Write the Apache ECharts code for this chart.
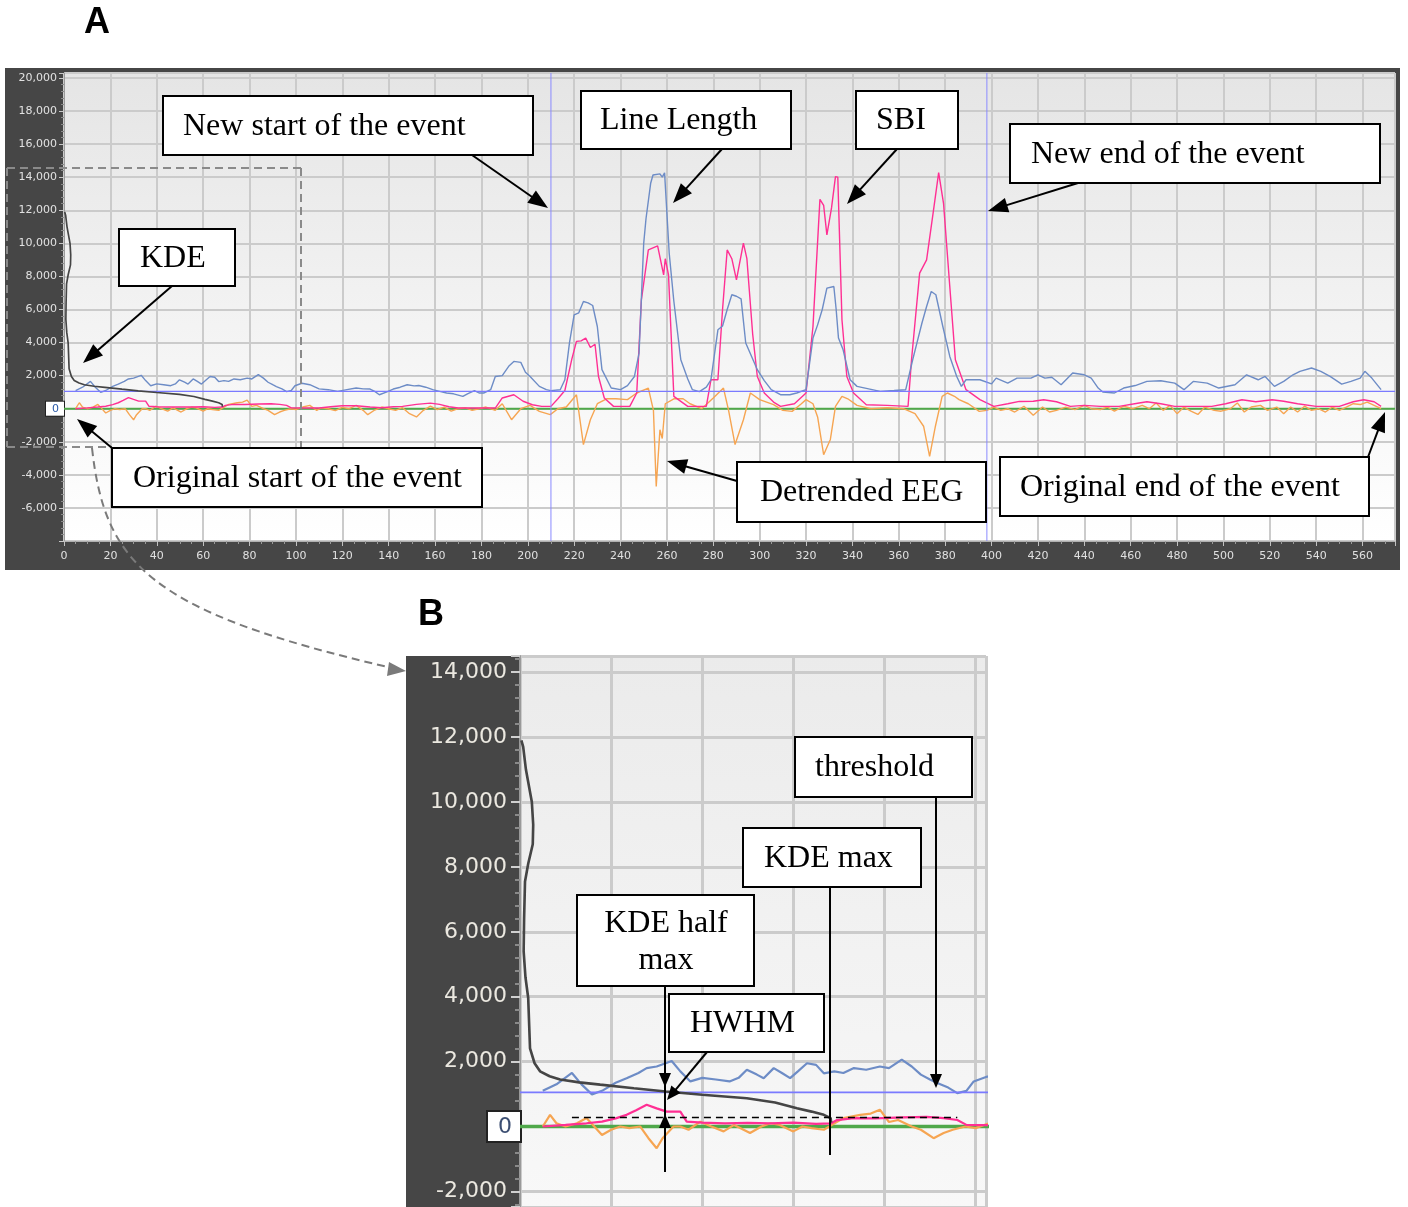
<!DOCTYPE html>
<html><head><meta charset="utf-8">
<script src="https://cdn.jsdelivr.net/npm/echarts@6/dist/echarts.min.js"></script>
<style>html,body{margin:0;padding:0;background:#fff}#c{width:1408px;height:1207px}</style>
</head><body><div id="c"></div>
<script>
// ---------------- data (x = sample index, y = amplitude) ----------------
const lineLength = [[5,1100],[8,1300],[11.4,1650],[13.5,1300],[15.8,990],[18,1100],[21,1350],[23.4,1490],[26,1650],[27.8,1800],[30,1850],[33.3,2020],[35.2,1700],[37.4,1390],[40,1500],[43,1450],[46,1390],[48,1500],[49.8,1750],[52,1600],[53.5,1490],[55.7,1800],[57.5,1650],[59.3,1490],[61,1700],[63,1950],[65,1900],[66.7,1640],[69,1700],[71,1650],[73.3,1800],[76,1750],[79,1850],[81,1800],[83.8,2060],[86,1850],[88,1600],[90,1450],[91.6,1340],[94,1200],[96,1030],[98,1100],[99.6,1390],[102.6,1540],[106,1450],[110,1200],[114,1150],[118,1045],[122,1150],[126,1250],[129,1200],[132,1190],[134,1050],[136,845],[139,1000],[142,1190],[145,1300],[148,1450],[151,1380],[153,1400],[156,1300],[159,1150],[162,1050],[165,950],[168,900],[172,745],[174,900],[177,1100],[179,950],[181,950],[184,1150],[186,1950],[189,2000],[192,2600],[194,2860],[197,2800],[199,2200],[201,1950],[205,1350],[208,1150],[210,1090],[214,1150],[216,1750],[218,4000],[220,5680],[222,5800],[224,6480],[226,6400],[228,6240],[230,4970],[232,2360],[236,1250],[240,1150],[243,1400],[246,1950],[248,3360],[250,10000],[251,11500],[253,13630],[254,14130],[257,14200],[258,14000],[259,14270],[261,9400],[263,6500],[266,2960],[269,1800],[271,1150],[274,1030],[277,1300],[279,1750],[282,4770],[284,5000],[286,6000],[288,6890],[290,6800],[292,6640],[294,3970],[297,3000],[299,2360],[302,1700],[305,1150],[309,845],[313,845],[316,950],[320,1150],[323,4270],[325,5070],[327,6000],[329,7290],[332,7390],[333,6000],[334,4270],[336,3560],[339,1750],[342,1350],[347,1200],[352,1045],[358,1100],[363,1150],[366,2960],[368,4070],[370,5180],[372,6180],[374,7090],[376,6890],[379,4970],[382,3160],[385,1950],[387,1350],[389,1750],[395,1750],[400,1500],[402,1850],[407,1550],[411,1850],[417,1850],[420,2050],[423,1850],[426,1900],[430,1450],[435,2160],[440,2050],[443,1850],[446,1250],[448,1010],[453,950],[457,1250],[462,1400],[467,1650],[473,1690],[479,1550],[483,1150],[487,1650],[493,1550],[498,1250],[505,1450],[510,2050],[515,1750],[518,1950],[522,1350],[526,1650],[530,2050],[533,2260],[538,2460],[542,2260],[546,1950],[551,1490],[555,1650],[559,1850],[561,2260],[564,1850],[568,1150]];

const sbi = [[5,0],[10,50],[14.6,100],[18,150],[21,250],[23.4,360],[25.5,500],[27.8,670],[30,560],[32.2,460],[35.2,460],[36.6,150],[40,120],[45,100],[50,110],[55,100],[60,120],[65,80],[68.3,100],[69.6,200],[73.3,260],[78,250],[84,280],[89.3,300],[93,260],[96,200],[98,50],[103,40],[110,40],[115,120],[120,180],[126,180],[132,100],[137,60],[142,120],[146,140],[152,260],[158,340],[162,260],[166,120],[170,40],[181,40],[186,40],[189,650],[194,845],[198,450],[202,240],[206,140],[210,140],[213,600],[216,1100],[219,3000],[221,4070],[223,4100],[225,4270],[227,3700],[229,3900],[230.5,1950],[233,650],[237,140],[244,140],[247,950],[249,6580],[252,9600],[256,9840],[258.6,8090],[259.3,9070],[260.7,8090],[263,745],[269,140],[277,140],[279,1750],[282,1750],[284,6000],[286,9600],[288,9070],[290,7790],[293,10010],[294.5,9070],[297,4500],[299,1950],[302,950],[306,400],[309,140],[315,300],[320,950],[323,4970],[326,12660],[327.6,12300],[329,10510],[331,12140],[332.7,14030],[333.7,14000],[335.5,5380],[337.6,1950],[340.5,950],[346,240],[355,200],[364,140],[365.5,2960],[369,8200],[372,9000],[375,12020],[377.2,14270],[379.3,12420],[382,7390],[384.4,2960],[389,1150],[395,550],[401,140],[407,300],[412,440],[418,450],[422.5,545],[428,420],[434,140],[440,200],[447,140],[455,140],[463,330],[467,420],[473,300],[479,140],[487,140],[495,140],[501,300],[508,540],[514,420],[521,540],[526,450],[532,300],[540,140],[550,140],[556,420],[560.5,540],[565,420],[568,140]];

const detrendedEEG = [[5,0],[6.6,360],[8,100],[10,0],[12.5,100],[14.6,260],[16,50],[18,-260],[20,-100],[22,0],[24,-50],[26.4,0],[28.2,-360],[30,-670],[31.3,-360],[33.7,0],[35.2,0],[37,-100],[39.6,150],[42,0],[44.7,-150],[47,50],[50.5,-200],[53,0],[55,100],[57,50],[60,-150],[62,0],[64,-50],[66.7,-100],[68.5,50],[71,260],[74.7,360],[77,400],[79,520],[81,140],[83,200],[86,0],[88,-100],[90.8,-360],[93,-200],[95,-100],[97.8,0],[100,-50],[103,100],[106,200],[109,-100],[111,60],[114,0],[117,-120],[120,80],[123,0],[126,200],[129,-100],[131,-360],[134,-80],[137,100],[140,0],[143,-100],[146,60],[149,-300],[152,-500],[155,-100],[158,150],[161,-50],[164,100],[167,-150],[170,0],[173,60],[176,-100],[179,0],[182,100],[186,-100],[189,300],[193,-665],[197,0],[201,200],[205,-160],[209.7,-360],[213,0],[216.6,100],[221,845],[224,-2170],[227,-665],[230,300],[234,600],[238,600],[243,550],[247,950],[252,1250],[254.2,-100],[255.4,-4700],[257,-1270],[258,-1800],[259.3,300],[263,600],[267,600],[270,300],[275,0],[280,650],[284.4,1250],[286.6,-100],[289.4,-2170],[291,-1500],[293,-665],[296,950],[300,550],[306,250],[310,-100],[314,-160],[318,300],[320,550],[323,300],[325,-500],[327.6,-2780],[330.5,-1860],[332.7,140],[335.5,750],[338,600],[342,200],[348,0],[355,60],[362,0],[367,-300],[370.7,-1060],[373.3,-2880],[375.8,-1060],[378.7,750],[381,950],[384,750],[386,550],[390,300],[394.7,-160],[398,-100],[401,100],[404,-100],[407,0],[410,-200],[414,150],[418,-400],[422,100],[425,-200],[428,-100],[432,100],[436,-60],[440,200],[443,0],[447,-50],[450,100],[453,-150],[457,150],[461,0],[465,200],[468,0],[471,350],[474,-100],[477,200],[480,-300],[483,100],[486,-150],[489,-350],[492,100],[496,-100],[499,-150],[503,0],[506,350],[509,-200],[512,100],[516,200],[519,-100],[523,100],[526,-300],[529,100],[532,-200],[535,150],[538,-100],[541,0],[544,-200],[547,100],[550,-100],[553,100],[556,300],[559,250],[562,400],[565,200],[568,0]];

// kernel density estimate (x = density scaled to samples, y = amplitude)
const kde = [[0.3,11900],[0.7,11700],[1.3,11000],[2.6,10000],[2.9,9300],[2.8,8700],[1.8,8100],[1.1,7550],[0.9,6400],[0.8,5400],[1.2,4600],[1.8,3960],[2.2,2410],[3.2,1950],[4.4,1700],[6.5,1550],[8.8,1450],[13,1360],[17.6,1290],[25,1180],[32,1080],[40,980],[49.8,870],[56,740],[60.8,565],[64,460],[66.7,360],[68.2,260],[68.5,206],[68.3,120]];

const threshold = 1050;
const eventBounds = [210, 398];          // new start / new end of the event
const kdeMaxLevel = 280;
const kdeMaxSpan = [11.4, 96];
const xExtentA = [0, 574], yExtentA = [-8000, 20300];
const xExtentB = [0, 102.3], yExtentB = [-2480, 14500];
const xTickLabelMax = 560, yLabelRangeA = [-6000, 20000], yLabelRangeB = [-2000, 14000];

// ---------------- chart ----------------
const chart = echarts.init(document.getElementById('c'), null, {renderer: 'canvas'});

function yFormatter(range) {
  return function (v) {
    if (v < range[0] || v > range[1] || v % 2000 !== 0) return '';
    if (v === 0) return '{z|0}';
    return '{n|' + v.toLocaleString('en-US') + '}';
  };
}

function seriesFor(gi, w) {
  const base = {type: 'line', xAxisIndex: gi, yAxisIndex: gi, showSymbol: false, symbol: 'none', silent: true, animation: false, clip: true};
  const out = [
    Object.assign({}, base, {name: 'zero', data: [[xExtentA[0], 0], [xExtentA[1], 0]], lineStyle: {color: '#4fa84a', width: w * 1.5}, z: 2}),
    Object.assign({}, base, {name: 'Detrended EEG', data: detrendedEEG, lineStyle: {color: '#f6a552', width: w}, z: 3}),
    Object.assign({}, base, {name: 'SBI', data: sbi, lineStyle: {color: '#ff2f93', width: w}, z: 4}),
    Object.assign({}, base, {name: 'Line Length', data: lineLength, lineStyle: {color: '#6d8cc6', width: w}, z: 5}),
    Object.assign({}, base, {name: 'threshold', data: [[xExtentA[0], threshold], [xExtentA[1], threshold]], lineStyle: {color: '#7a7aff', width: w * 0.8}, z: 6}),
    Object.assign({}, base, {name: 'KDE', data: kde, lineStyle: {color: '#454545', width: w * 1.2}, z: 7})
  ];
  if (gi === 0) {
    eventBounds.forEach(b => out.push(Object.assign({}, base, {name: 'bound', data: [[b, yExtentA[0]], [b, yExtentA[1]]], lineStyle: {color: '#8a8aff', width: 1}, z: 6})));
  } else {
    out.push(Object.assign({}, base, {name: 'KDE max level', data: [[kdeMaxSpan[0], kdeMaxLevel], [kdeMaxSpan[1], kdeMaxLevel]], lineStyle: {color: '#000', width: 1.6, type: [7, 5]}, z: 8}));
  }
  return out;
}

// annotation helpers (layout only)
function box(x, y, w, h, text, tx, ty, align) {
  return [
    {type: 'rect', shape: {x: x, y: y, width: w, height: h}, style: {fill: '#fff', stroke: '#000', lineWidth: 2}, z: 100},
    {type: 'text', x: tx, y: ty, style: {text: text, font: '32px "Liberation Serif", "Times New Roman", serif', fill: '#000', textAlign: align || 'left', align: align || 'left', textVerticalAlign: 'middle', verticalAlign: 'middle', lineHeight: 37}, z: 101}
  ];
}
function arrow(x1, y1, x2, y2, hl, hw, color, lw, dash) {
  const dx = x2 - x1, dy = y2 - y1, L = Math.hypot(dx, dy), ux = dx / L, uy = dy / L;
  const bx = x2 - ux * hl, by = y2 - uy * hl, px = -uy, py = ux;
  return [
    {type: 'line', shape: {x1: x1, y1: y1, x2: bx + ux * 2, y2: by + uy * 2}, style: {stroke: color, lineWidth: lw, lineDash: dash || null}, z: 99},
    {type: 'polygon', shape: {points: [[x2, y2], [bx + px * hw / 2, by + py * hw / 2], [bx - px * hw / 2, by - py * hw / 2]]}, style: {fill: color}, z: 99}
  ];
}
function seg(x1, y1, x2, y2, color, lw, dash, z) {
  return {type: 'line', shape: {x1: x1, y1: y1, x2: x2, y2: y2}, style: {stroke: color, lineWidth: lw, lineDash: dash || null}, z: z || 99};
}

const graphics = [].concat(
  [{type: 'rect', shape: {x: 5, y: 68, width: 1395, height: 502}, style: {fill: '#464646'}, z: -10},
   {type: 'rect', shape: {x: 406, y: 656, width: 114, height: 551}, style: {fill: '#464646'}, z: -10},
   {type: 'text', x: 84, y: 23, style: {text: 'A', font: 'bold 36px "Liberation Sans", Arial, sans-serif', fill: '#000', textVerticalAlign: 'middle', verticalAlign: 'middle'}, z: 100},
   {type: 'text', x: 418, y: 615, style: {text: 'B', font: 'bold 36px "Liberation Sans", Arial, sans-serif', fill: '#000', textVerticalAlign: 'middle', verticalAlign: 'middle'}, z: 100},
   // dashed zoom frame and connector
   seg(7, 168, 301, 168, '#8a8a8a', 2, [8, 5], 50),
   seg(7, 168, 7, 447, '#8a8a8a', 2, [8, 5], 50),
   seg(301, 168, 301, 447, '#8a8a8a', 2, [8, 5], 50),
   seg(7, 447, 112, 447, '#8a8a8a', 2, [8, 5], 50),
   {type: 'bezierCurve', shape: {x1: 92, y1: 448, cpx1: 105, cpy1: 565, cpx2: 150, cpy2: 612, x2: 392, y2: 668}, style: {stroke: '#7a7a7a', lineWidth: 2, lineDash: [8, 5], fill: null}, z: 50},
   {type: 'polygon', shape: {points: [[406, 671], [389, 662], [387, 676]]}, style: {fill: '#7a7a7a'}, z: 50}
  ],
  box(163, 96, 370, 59, 'New start of the event', 183, 127),
  box(581, 91, 210, 58, 'Line Length', 600, 121),
  box(856, 91, 102, 58, 'SBI', 876, 121),
  box(1010, 124, 370, 59, 'New end of the event', 1031, 155),
  box(119, 229, 116, 57, 'KDE', 140, 259),
  box(112, 448, 370, 59, 'Original start of the event', 133, 479),
  box(737, 462, 249, 60, 'Detrended EEG', 760, 493),
  box(1000, 457, 369, 59, 'Original end of the event', 1020, 488),
  arrow(472, 155, 548, 208, 20, 15, '#000', 2),
  arrow(722, 149, 673, 203, 20, 15, '#000', 2),
  arrow(897, 149, 847, 204, 20, 15, '#000', 2),
  arrow(1078, 183, 988, 211, 20, 15, '#000', 2),
  arrow(172, 286, 83, 363, 20, 15, '#000', 2),
  arrow(112, 448, 77, 419, 20, 15, '#000', 2),
  arrow(737, 481, 667, 461, 20, 15, '#000', 2),
  arrow(1368, 457, 1385, 412, 20, 15, '#000', 2),
  // panel B annotations
  box(795, 737, 177, 60, 'threshold', 815, 768),
  box(743, 828, 178, 59, 'KDE max', 764, 859),
  box(577, 895, 177, 91, 'KDE half\nmax', 666, 942, 'center'),
  box(669, 994, 155, 58, 'HWHM', 690, 1024),
  [seg(665, 986, 665, 1172, '#000', 2)],
  arrow(665, 1040, 665, 1087, 14, 12, '#000', 2),
  arrow(665, 1150, 665, 1114, 14, 12, '#000', 2),
  arrow(707, 1052, 667, 1100, 14, 12, '#000', 2),
  [seg(830, 887, 830, 1155, '#000', 2)],
  arrow(936, 797, 936, 1088, 14, 12, '#000', 2)
);

const gradA = new echarts.graphic.LinearGradient(0, 0, 0, 1, [{offset: 0, color: '#e5e5e5'}, {offset: 1, color: '#ffffff'}]);
const gradB = new echarts.graphic.LinearGradient(0, 0, 0, 1, [{offset: 0, color: '#ebebeb'}, {offset: 1, color: '#f8f8f8'}]);

const option = {
  animation: false,
  backgroundColor: '#ffffff',
  grid: [
    {left: 64, top: 73, width: 1331, height: 468, show: true, backgroundColor: gradA, borderWidth: 0, containLabel: false},
    {left: 520, top: 656, width: 466, height: 551, show: true, backgroundColor: gradB, borderWidth: 0, containLabel: false}
  ],
  xAxis: [
    {type: 'value', gridIndex: 0, min: xExtentA[0], max: xExtentA[1], interval: 20,
     axisLine: {show: true, onZero: false, lineStyle: {color: '#b0b0b0', width: 1}},
     axisTick: {show: true, length: 5, lineStyle: {color: '#c0c0c0'}},
     minorTick: {show: true, splitNumber: 4, length: 3, lineStyle: {color: '#9a9a9a'}},
     axisLabel: {color: '#e0e0e0', fontSize: 11, fontFamily: '"DejaVu Sans", sans-serif', margin: 10,
       formatter: v => (v % 20 === 0 && v <= xTickLabelMax) ? String(v) : ''},
     splitLine: {show: true, lineStyle: {color: '#cbcbcb', width: 2}}},
    {type: 'value', gridIndex: 1, min: xExtentB[0], max: xExtentB[1], interval: 20,
     axisLine: {show: false, onZero: false}, axisTick: {show: false}, axisLabel: {show: false},
     splitLine: {show: true, lineStyle: {color: '#cbcbcb', width: 3}}}
  ],
  yAxis: [
    {type: 'value', gridIndex: 0, min: yExtentA[0], max: yExtentA[1], interval: 2000,
     axisLine: {show: true, onZero: false, lineStyle: {color: '#9a9a9a', width: 1}},
     axisTick: {show: true, length: 5, lineStyle: {color: '#c8c8c8'}},
     minorTick: {show: true, splitNumber: 5, length: 3, lineStyle: {color: '#8a8a8a'}},
     axisLabel: {margin: 0, formatter: yFormatter(yLabelRangeA),
       rich: {n: {color: '#e2e2e2', fontSize: 11, fontFamily: '"DejaVu Sans", sans-serif', padding: [0, 7, 0, 0]},
              z: {color: '#2a5aa8', fontSize: 11, fontFamily: '"DejaVu Sans", sans-serif', backgroundColor: '#ffffff', borderColor: '#222', borderWidth: 1, padding: [2, 5, 1, 6]}}},
     splitLine: {show: true, lineStyle: {color: '#cbcbcb', width: 2}}},
    {type: 'value', gridIndex: 1, min: yExtentB[0], max: yExtentB[1], splitNumber: 8,
     axisLine: {show: true, onZero: false, lineStyle: {color: '#9a9a9a', width: 2}},
     axisTick: {show: true, length: 9, lineStyle: {color: '#d0d0d0', width: 2}},
     minorTick: {show: true, splitNumber: 5, length: 5, lineStyle: {color: '#8a8a8a', width: 2}},
     axisLabel: {margin: 0, formatter: yFormatter(yLabelRangeB),
       rich: {n: {color: '#ebe8e0', fontSize: 22, fontFamily: '"DejaVu Sans", sans-serif', padding: [0, 13, 0, 0]},
              z: {color: '#3b4e72', fontSize: 22, fontFamily: '"DejaVu Sans", sans-serif', backgroundColor: '#ffffff', borderColor: '#222', borderWidth: 2, padding: [4, 8, 3, 10]}}},
     splitLine: {show: true, lineStyle: {color: '#cbcbcb', width: 3}}}
  ],
  series: seriesFor(0, 1.4).concat(seriesFor(1, 2.2)),
  graphic: {elements: graphics}
};
chart.setOption(option);
</script></body></html>
